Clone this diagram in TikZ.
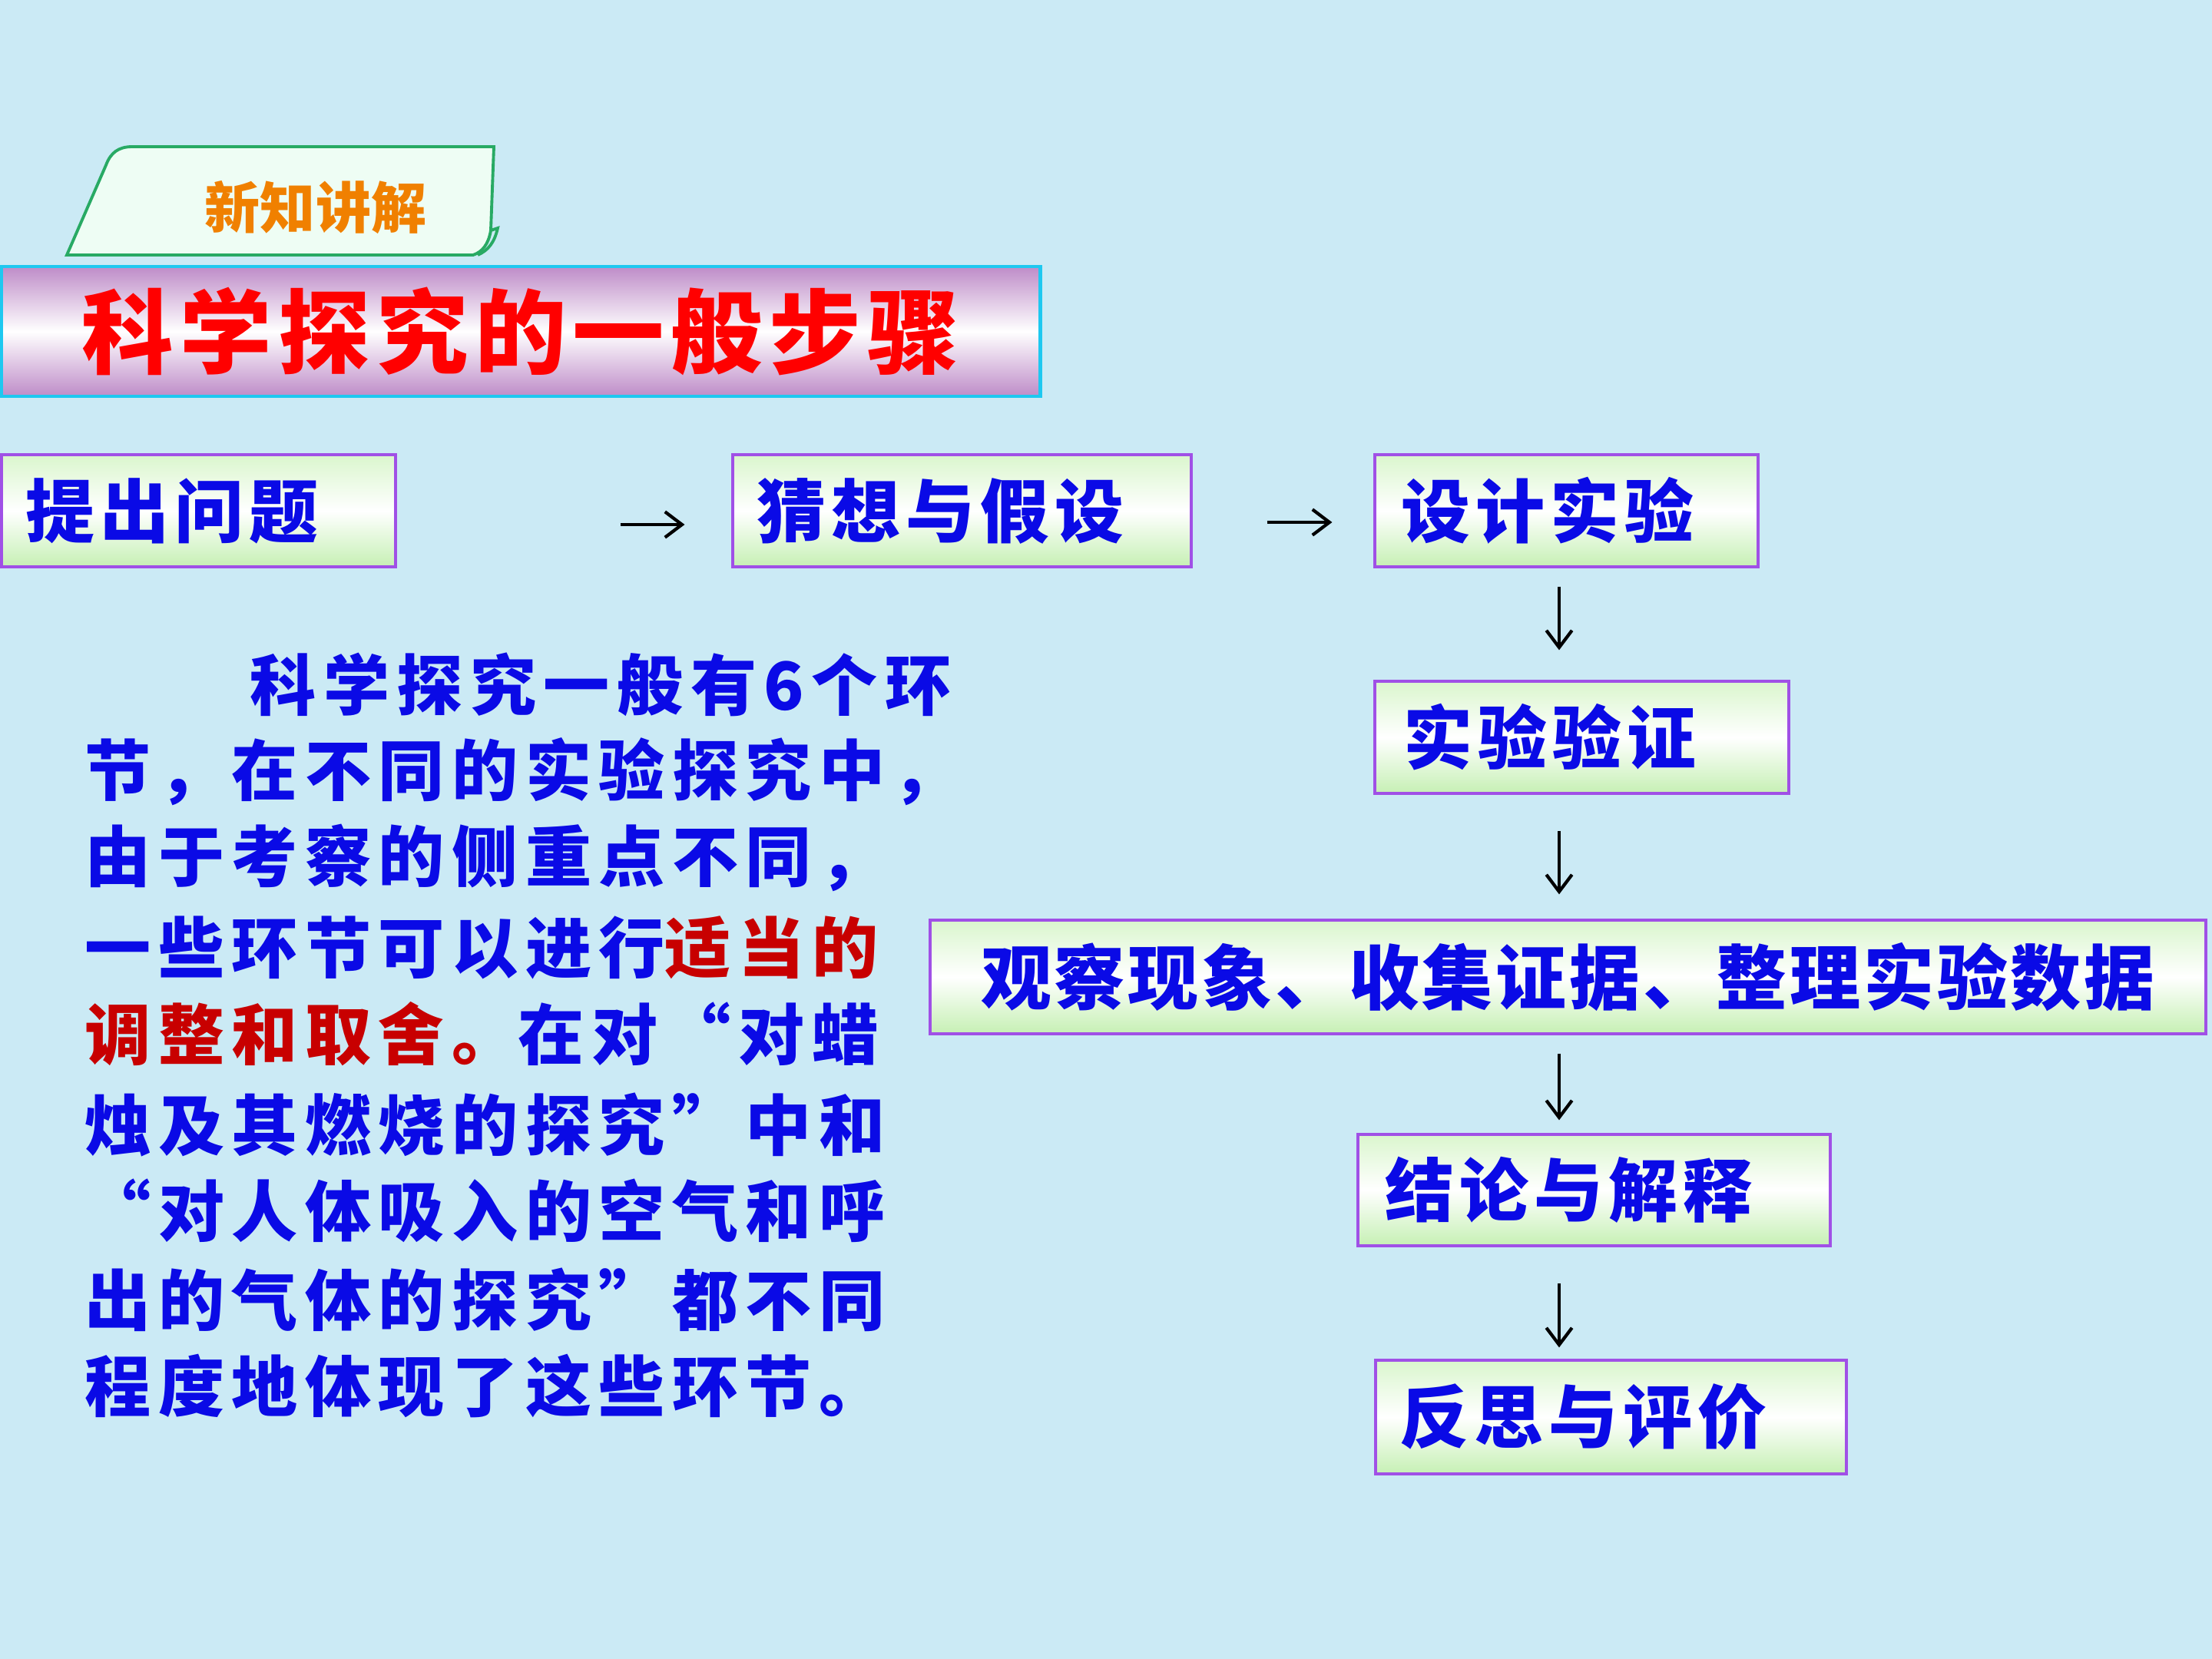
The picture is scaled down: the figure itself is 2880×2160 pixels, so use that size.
\documentclass[tikz,border=0pt]{standalone}
\usepackage{fontspec}
\usetikzlibrary{arrows.meta,shadings}
\newfontfamily\cjk{Noto Sans CJK SC}
\newfontfamily\cjkLab[LetterSpace=8]{Noto Sans CJK SC}
\newfontfamily\cjkWide[LetterSpace=4]{Noto Sans CJK SC}
\newfontfamily\cjkTitle[LetterSpace=7]{Noto Sans CJK SC}
\newfontfamily\cjkPara[LetterSpace=11]{Noto Sans CJK SC}
\definecolor{bg}{RGB}{203,234,245}
\definecolor{boxline}{RGB}{160,80,230}
\definecolor{boxtop}{RGB}{218,246,205}
\definecolor{boxbot}{RGB}{198,240,180}
\definecolor{barline}{RGB}{30,200,240}
\definecolor{barshade}{RGB}{190,140,200}
\definecolor{tabline}{RGB}{40,170,100}
\definecolor{tabfill}{RGB}{238,253,244}
\definecolor{tabtext}{RGB}{240,128,0}
\definecolor{txtblue}{RGB}{10,10,230}
\definecolor{txtred}{RGB}{255,0,0}
\definecolor{darkred}{RGB}{200,0,0}
\tikzset{
  stepbox/.style={draw=boxline, line width=0.9pt, top color=boxtop, bottom color=boxbot, middle color=white,
    inner ysep=0pt, minimum height=14.6mm, align=left, text=txtblue,
    font=\cjkLab\bfseries\fontsize{25.6pt}{30pt}\selectfont},
  arr/.style={-{Straight Barb[length=6.3pt,width=9.5pt]}, line width=1.2pt, black},
  para/.style={anchor=west, inner sep=0pt, text=txtblue, font=\cjkPara\bfseries\fontsize{24.5pt}{28pt}\selectfont}
}
\begin{document}
\begin{tikzpicture}[x=0.1mm,y=-0.1mm]
\useasboundingbox (0,0) rectangle (2880,2160);
\fill[bg] (0,0) rectangle (2880,2160);

% tab
\draw[tabline, line width=1.1pt, fill=tabfill] (87,332) -- (138,215) .. controls (144,199) and (154,191) .. (172,191) -- (643,191) -- (639,300) .. controls (636,318) and (628,328) .. (616,332) -- cycle;
\draw[tabline, line width=1.1pt] (639,300) -- (648,297) .. controls (644,315) and (636,326) .. (622,332);
\node[text=tabtext, font=\cjk\bfseries\fontsize{20.5pt}{24pt}\selectfont] (tab) at (411,270) {新知讲解};

% title bar
\node[draw=barline, line width=1.2pt, top color=barshade, bottom color=barshade, middle color=white,
  minimum width=135.3mm, minimum height=16.9mm, inner sep=0pt, text=txtred,
  font=\cjkTitle\bfseries\fontsize{34pt}{40pt}\selectfont] (title) at (678,431.5) {科学探究的一般步骤};

% step boxes
\node[stepbox, text width=45.1mm, inner xsep=3.1mm] (b1) at (258.5,665) {提出问题};
\node[stepbox, text width=53.5mm, inner xsep=3.1mm] (b2) at (1252.5,665) {猜想与假设};
\node[stepbox, text width=43.1mm, inner xsep=3.4mm] (b3) at (2039.5,665) {设计实验};
\node[stepbox, text width=46.5mm, inner xsep=3.7mm] (b4) at (2059.5,960) {实验验证};
\node[stepbox, text width=160mm, inner xsep=3.05mm, minimum height=14.8mm, align=center,
  font=\cjkWide\bfseries\fontsize{26.2pt}{30pt}\selectfont] (b5) at (2041.5,1272) {观察现象、收集证据、整理实验数据};
\node[stepbox, text width=54.5mm, inner xsep=3.5mm, minimum height=14.5mm] (b6) at (2075.5,1549.5) {结论与解释};
\node[stepbox, text width=55.1mm, inner xsep=3.1mm, minimum height=14.8mm] (b7) at (2097.5,1845) {反思与评价};

% connectors
\coordinate (ax) at (2030,0);
\draw[arr, shorten <=29.1mm, shorten >=6.1mm] ([yshift=-1.8mm]b1.east) -- ([yshift=-1.8mm]b2.west);
\draw[arr, shorten <=9.7mm, shorten >=5.4mm] ([yshift=-1.5mm]b2.east) -- ([yshift=-1.5mm]b3.west);
\draw[arr, shorten <=2.4mm, shorten >=3.9mm] (b3.south -| ax) -- (b4.north -| ax);
\draw[arr, shorten <=4.7mm, shorten >=3.2mm] (b4.south -| ax) -- (b5.north -| ax);
\draw[arr, shorten <=2.4mm, shorten >=1.7mm] (b5.south -| ax) -- (b6.north -| ax);
\draw[arr, shorten <=4.7mm, shorten >=1.5mm] (b6.south -| ax) -- (b7.north -| ax);

% paragraph
\node[para] (p1) at (325,891) {科学探究一般有6个环};
\node[para] (p2) at (110,1005) {节，在不同的实验探究中，};
\node[para] (p3) at (110,1117) {由于考察的侧重点不同，};
\node[para] (p4) at (110,1234) {一些环节可以进行\textcolor{darkred}{适当的}};
\node[para] (p5) at (110,1346) {\textcolor{darkred}{调整和取舍。}在对“对蜡};
\node[para] (p6) at (110,1464) {烛及其燃烧的探究”中和};
\node[para] (p7) at (110,1576) {“对人体吸入的空气和呼};
\node[para] (p8) at (110,1692) {出的气体的探究”都不同};
\node[para] (p9) at (110,1805) {程度地体现了这些环节。};
\end{tikzpicture}
\end{document}
